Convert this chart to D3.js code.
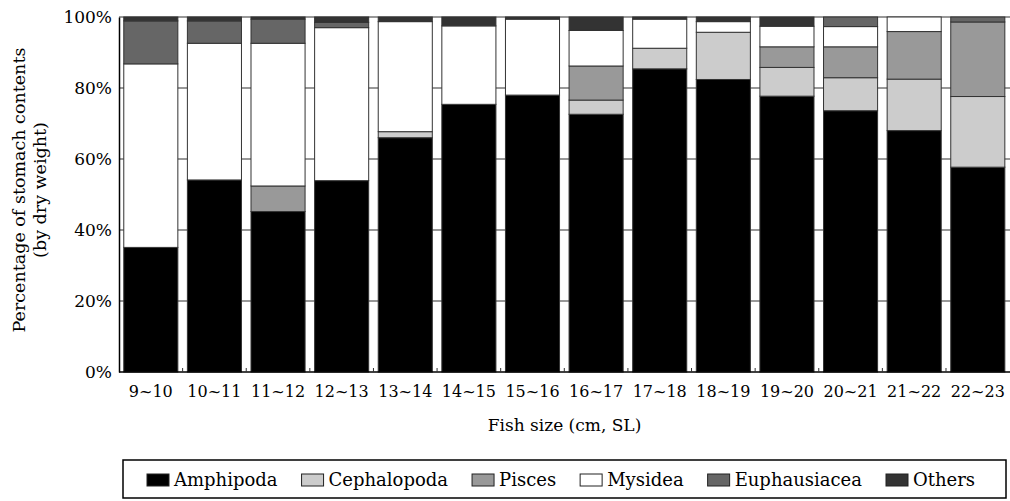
<!DOCTYPE html>
<html>
<head>
<meta charset="utf-8">
<script src="https://cdn.jsdelivr.net/npm/d3@7"></script>
<style>
  html, body { margin: 0; padding: 0; background: #fff; }
  svg { display: block; font-family: "DejaVu Serif", serif; }
</style>
</head>
<body>
<svg id="chart" width="1010" height="501"></svg>
<script>
// ---- data (percent of stomach contents by dry weight) ----
const sizeClasses = ["9~10","10~11","11~12","12~13","13~14","14~15","15~16","16~17","17~18","18~19","19~20","20~21","21~22","22~23"];
const preyGroups = ["Amphipoda","Cephalopoda","Pisces","Mysidea","Euphausiacea","Others"];
const amphipoda    = [35.1, 54.1, 45.2, 53.9, 66.0, 75.4, 78.0, 72.6, 85.4, 82.4, 77.7, 73.6, 68.0, 57.7];
const cephalopoda  = [ 0,    0,    0,    0,    1.7,  0,    0,    4.0,  5.8, 13.3,  8.1,  9.3, 14.5, 19.9];
const pisces       = [ 0,    0,    7.2,  0,    0,    0,    0,    9.6,  0,    0,    5.8,  8.7, 13.4, 21.0];
const mysidea      = [51.7, 38.5, 40.2, 43.1, 31.0, 22.1, 21.4, 10.0,  8.2,  3.0,  5.8,  5.7,  4.1,  0];
const euphausiacea = [12.1,  6.3,  6.8,  1.5,  0,    0,    0,    0,    0,    0,    0,    2.7,  0,    1.4];
const others       = [ 1.1,  1.1,  0.6,  1.5,  1.3,  2.5,  0.6,  3.8,  0.6,  1.3,  2.6,  0,    0,    0];
const yTicks = [0, 20, 40, 60, 80, 100];
const yTitleLines = ["Percentage of stomach contents", "(by dry weight)"];
const xTitle = "Fish size (cm, SL)";

const fills = ["#000000", "#cccccc", "#999999", "#ffffff", "#666666", "#333333"];

// ---- layout ----
const svg = d3.select("#chart");
const plotL = 119, plotR = 1009.6, plotT = 17, plotB = 372;

const table = sizeClasses.map((s, i) => ({
  size: s,
  Amphipoda: amphipoda[i], Cephalopoda: cephalopoda[i], Pisces: pisces[i],
  Mysidea: mysidea[i], Euphausiacea: euphausiacea[i], Others: others[i]
}));
const series = d3.stack().keys(preyGroups)(table);

const x = d3.scaleBand().domain(sizeClasses).range([plotL, plotR])
  .paddingInner(0.15).paddingOuter(0.075);
const y = d3.scaleLinear().domain([0, 100]).range([plotB, plotT]);
const color = d3.scaleOrdinal().domain(preyGroups).range(fills);

// gridlines
svg.append("g").selectAll("line").data(yTicks.filter(d => d > 0)).join("line")
  .attr("x1", plotL).attr("x2", 1010)
  .attr("y1", d => y(d)).attr("y2", d => y(d))
  .attr("stroke", "#333").attr("stroke-width", 1.2);

// bars
svg.append("g").selectAll("g").data(series).join("g")
  .attr("fill", d => color(d.key))
  .selectAll("rect").data(d => d.filter(s => s[1] - s[0] > 0)).join("rect")
  .attr("x", d => x(d.data.size))
  .attr("width", x.bandwidth())
  .attr("y", d => y(d[1]))
  .attr("height", d => y(d[0]) - y(d[1]))
  .attr("stroke", "#333").attr("stroke-width", 1);

// y axis
const yAxis = d3.axisLeft(y).tickValues(yTicks).tickFormat(d => d + "%").tickSize(0).tickPadding(7);
const gy = svg.append("g").attr("transform", `translate(${plotL},0)`).call(yAxis);
gy.select(".domain").attr("stroke", "#000").attr("stroke-width", 1.5);
gy.selectAll("text").attr("font-family", "DejaVu Serif").attr("font-size", 17).attr("fill", "#000");

// x axis
const xAxis = d3.axisBottom(x).tickSize(0).tickPadding(14);
const gx = svg.append("g").attr("transform", `translate(0,${plotB})`).call(xAxis);
gx.select(".domain").attr("stroke", "#000").attr("stroke-width", 1.5).attr("d", `M${plotL},0H1010`);
gx.selectAll("text").attr("font-family", "DejaVu Serif").attr("font-size", 16).attr("fill", "#000");
// inner ticks between bars
const bounds = sizeClasses.slice(1).map(s => x(s) - x.step() * x.paddingInner() / 2);
svg.append("g").selectAll("line").data(bounds).join("line")
  .attr("x1", d => d).attr("x2", d => d)
  .attr("y1", plotB).attr("y2", plotB - 4)
  .attr("stroke", "#333").attr("stroke-width", 1);

// axis titles
svg.append("text").attr("x", (plotL + 1010) / 2).attr("y", 431)
  .attr("text-anchor", "middle").attr("font-size", 17).text(xTitle);
const yt = svg.append("text").attr("transform", "translate(0,190) rotate(-90)")
  .attr("text-anchor", "middle").attr("font-size", 17.5);
yt.selectAll("tspan").data(yTitleLines).join("tspan")
  .attr("x", 0).attr("y", (d, i) => 24.5 + i * 21).text(d => d);

// legend
const lg = svg.append("g");
lg.append("rect").attr("x", 123).attr("y", 460).attr("width", 883).attr("height", 38)
  .attr("fill", "#fff").attr("stroke", "#000").attr("stroke-width", 1.5);
let lx = 147;
preyGroups.forEach(k => {
  const it = lg.append("g");
  it.append("rect").attr("x", lx).attr("y", 474).attr("width", 22).attr("height", 12)
    .attr("fill", color(k)).attr("stroke", "#222").attr("stroke-width", 1);
  const t = it.append("text").attr("x", lx + 27).attr("y", 486).attr("font-size", 18).text(k);
  lx += 27 + t.node().getComputedTextLength() + 24;
});
</script>
</body>
</html>
